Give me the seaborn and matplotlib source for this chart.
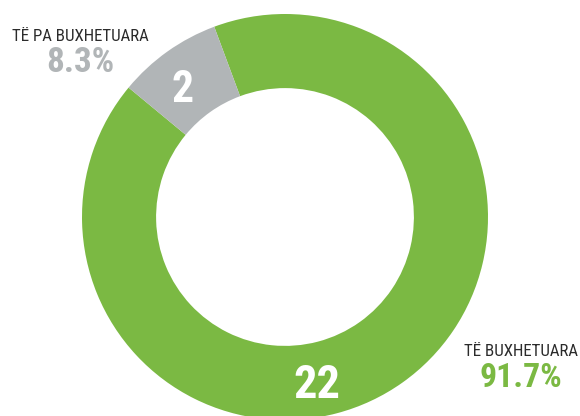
import matplotlib
matplotlib.use("Agg")
import matplotlib.pyplot as plt
import seaborn as sns

# ---- data ----
categories = ["TË BUXHETUARA", "TË PA BUXHETUARA"]
counts = [22, 2]
percent_labels = ["91.7%", "8.3%"]
colors = ["#7BB943", "#B1B5B7"]

sns.set_theme(style="white")
plt.rcParams["font.family"] = ["Roboto Condensed", "Archivo Narrow", "Liberation Sans", "DejaVu Sans"]

W, H = 580, 416
fig = plt.figure(figsize=(W / 100, H / 100), dpi=100)
ax = fig.add_axes([0, 0, 1, 1])

# geometry in pixels
cx, cy, R = 285, 217, 203
ring = 0.365

gray_mid = 125.4
start = gray_mid + 180 * counts[1] / sum(counts)

ax.pie(counts, colors=colors, startangle=start, counterclock=True,
       radius=1.0, wedgeprops=dict(width=ring, linewidth=0, edgecolor="none"))
ax.set_xlim(-cx / R, (W - cx) / R)
ax.set_ylim(-(H - cy) / R, cy / R)
ax.set_axis_off()


def px(x, y):
    return x / W, 1 - y / H


# value labels on the ring
fig.text(*px(183, 102), str(counts[1]), color="white", fontsize=31.5, fontweight="bold",
         ha="center", va="baseline")
fig.text(*px(317, 398), str(counts[0]), color="white", fontsize=33.5, fontweight="bold",
         ha="center", va="baseline")

# category labels
fig.text(*px(80, 41), categories[1], color="#2b2b2b", fontsize=12.2,
         ha="center", va="baseline")
fig.text(*px(80, 72), percent_labels[1], color=colors[1], fontsize=25.3, fontweight="bold",
         ha="center", va="baseline")
fig.text(*px(521, 356), categories[0], color="#2b2b2b", fontsize=12.2,
         ha="center", va="baseline")
fig.text(*px(521, 387), percent_labels[0], color=colors[0], fontsize=24.3, fontweight="bold",
         ha="center", va="baseline")

fig.savefig("out.png", dpi=100)
